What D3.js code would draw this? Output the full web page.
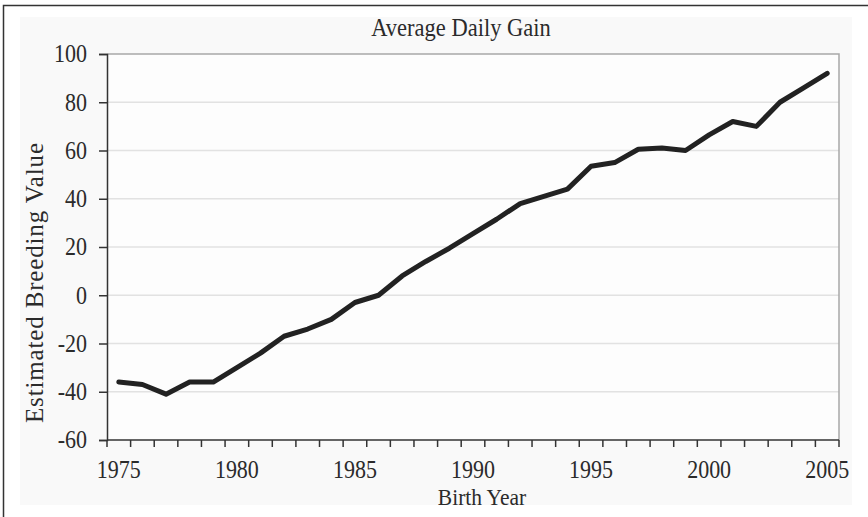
<!DOCTYPE html>
<html>
<head>
<meta charset="utf-8">
<script src="https://cdn.jsdelivr.net/npm/d3@7"></script>
<style>
  html, body { margin: 0; padding: 0; background: #ffffff; }
  svg text { font-family: "Liberation Serif", "Times New Roman", serif; fill: #2b2b2b; }
</style>
</head>
<body>
<div id="chart"></div>
<script>
// birth years (categories) and estimated breeding values
var anos = [1975, 1976, 1977, 1978, 1979, 1980, 1981, 1982, 1983, 1984,
            1985, 1986, 1987, 1988, 1989, 1990, 1991, 1992, 1993, 1994,
            1995, 1996, 1997, 1998, 1999, 2000, 2001, 2002, 2003, 2004, 2005];
var valores = [-36, -37, -41, -36, -36, -30, -24, -17, -14, -10,
               -3, 0, 8, 14, 19.5, 25.5, 31.5, 38, 41, 44,
               53.5, 55, 60.5, 61, 60, 66.5, 72, 70, 80, 86, 92];
var ticksY = [-60, -40, -20, 0, 20, 40, 60, 80, 100];
var rotulosX = [1975, 1980, 1985, 1990, 1995, 2000, 2005];

var titulo = "Average Daily Gain";
var tituloX = "Birth Year";
var tituloY = "Estimated Breeding Value";

function lineChart(id, opt) {

    var dados = anos.map((a, i) => ({ano: a, valor: valores[i]}));
    var esticar = ' scale(1,1.1)';   // the scanned text is a bit taller than wide

    var svg = d3.select(id)
      .append('svg')
        .attr('width', opt.W)
        .attr('height', opt.H);

    // outer frame + chart area
    svg.append('rect')
        .attr('x', 20).attr('y', 17)
        .attr('width', 832).attr('height', 488)
        .attr('fill', '#f9f9f9');
    svg.append('rect')
        .attr('x', 3.5).attr('y', 5.5)
        .attr('width', opt.W + 20).attr('height', opt.H + 20)
        .attr('fill', 'none')
        .attr('stroke', '#333')
        .attr('stroke-width', 1.5);

    var g = svg.append('g')
        .attr('transform', 'translate(' + opt.margin.left + ',' + opt.margin.top + ')');

    /*
     * scales
     */
    var x = d3.scaleBand()
        .domain(anos)
        .range([0, opt.w])
        .paddingInner(0)
        .paddingOuter(0);

    var y = d3.scaleLinear()
        .domain([-60, 100])
        .range([opt.h, 0]);

    // plot area
    g.append('rect')
        .attr('width', opt.w).attr('height', opt.h)
        .attr('fill', '#fdfdfd');

    // gridlines
    g.selectAll('.grid')
      .data(ticksY.filter(d => d > -60 && d < 100))
      .enter()
      .append('line')
        .attr('class', 'grid')
        .attr('x1', 0).attr('x2', opt.w)
        .attr('y1', d => y(d)).attr('y2', d => y(d))
        .attr('stroke', '#e2e2e2')
        .attr('stroke-width', 1.5);

    // plot area border (top/right)
    g.append('path')
        .attr('d', 'M0,' + y(100) + 'H' + opt.w + 'V' + opt.h)
        .attr('fill', 'none')
        .attr('stroke', '#a8a8a8')
        .attr('stroke-width', 1.5);

    /*
     * line
     */
    var linha = d3.line()
        .x(d => x(d.ano) + x.bandwidth() / 2)
        .y(d => y(d.valor));

    g.append('path')
        .datum(dados)
        .attr('d', linha)
        .attr('fill', 'none')
        .attr('stroke', '#222')
        .attr('stroke-width', 5)
        .attr('stroke-linejoin', 'round')
        .attr('stroke-linecap', 'round');

    /*
     * axes
     */
    var eixoY = g.append('g')
        .call(d3.axisLeft(y)
            .tickValues(ticksY)
            .tickFormat(d => String(d))   // plain hyphen, like the original
            .tickSize(8)
            .tickPadding(12));
    eixoY.select('.domain').attr('stroke', '#333').attr('stroke-width', 1.5);
    eixoY.selectAll('.tick line').attr('stroke', '#333').attr('stroke-width', 1.5);
    eixoY.selectAll('.tick text')
        .attr('font-size', '22px')
        .attr('transform', 'translate(0,0)' + esticar)
        .attr('fill', '#2b2b2b');

    // category ticks sit on the band edges, labels in band centres
    var bordas = anos.map(a => x(a)).concat([opt.w]);
    var eixoX = g.append('g')
        .attr('transform', 'translate(0,' + opt.h + ')');
    eixoX.append('line')
        .attr('x1', 0).attr('x2', opt.w)
        .attr('stroke', '#333').attr('stroke-width', 1.5);
    eixoX.selectAll('.tk')
      .data(bordas)
      .enter()
      .append('line')
        .attr('class', 'tk')
        .attr('x1', d => d).attr('x2', d => d)
        .attr('y1', 0).attr('y2', 7)
        .attr('stroke', '#333').attr('stroke-width', 1.5);
    eixoX.selectAll('.lbl')
      .data(rotulosX)
      .enter()
      .append('text')
        .attr('class', 'lbl')
        .attr('transform', d => 'translate(' + (x(d) + x.bandwidth() / 2) + ',38)' + esticar)
        .attr('text-anchor', 'middle')
        .attr('font-size', '22px')
        .text(d => d);

    /*
     * titles
     */
    svg.append('text')
        .attr('transform', 'translate(461,36)' + esticar)
        .attr('text-anchor', 'middle')
        .attr('font-size', '22.5px')
        .text(titulo);

    svg.append('text')
        .attr('transform', 'translate(482,505)' + esticar)
        .attr('text-anchor', 'middle')
        .attr('font-size', '21.5px')
        .text(tituloX);

    svg.append('text')
        .attr('transform', 'translate(43,283) rotate(-90)')
        .attr('text-anchor', 'middle')
        .attr('font-size', '25px')
        .attr('textLength', 280)
        .text(tituloY);
}

lineChart('#chart', {
    W: 868, H: 517,
    w: 732, h: 386,
    margin: {left: 107, top: 54}
});
</script>
</body>
</html>
